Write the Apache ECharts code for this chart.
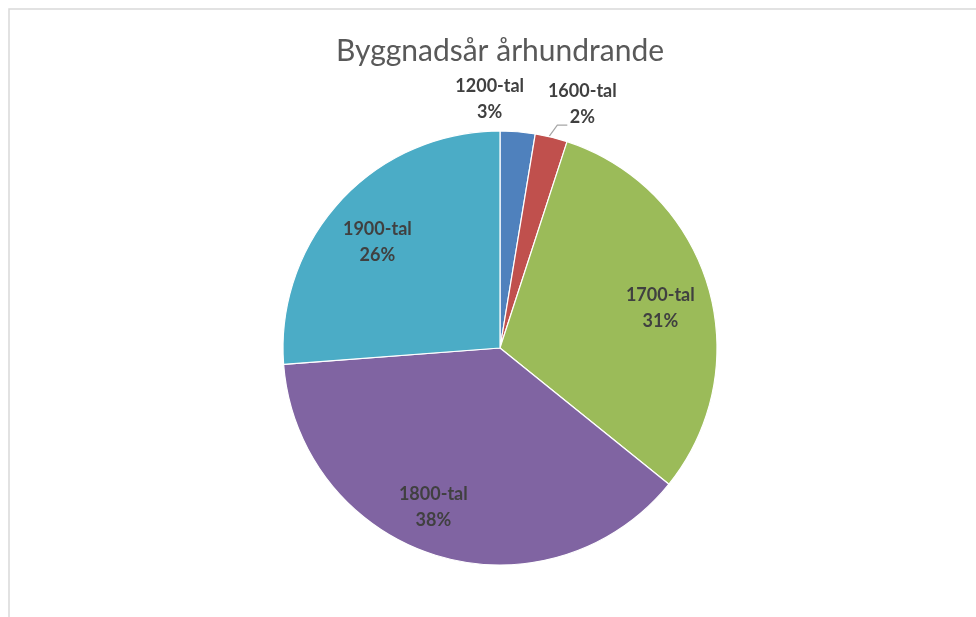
<!DOCTYPE html>
<html><head><meta charset="utf-8">
<script src="https://cdn.jsdelivr.net/npm/echarts@6/dist/echarts.min.js"></script>
<style>html,body{margin:0;padding:0;background:#fff}#c{width:976px;height:617px}</style>
</head><body><div id="c"></div>
<script>
const categories = ['1200-tal', '1600-tal', '1700-tal', '1800-tal', '1900-tal'];
const values = [2.6, 2.4, 30.8, 38.0, 26.2];
const percentLabels = ['3%', '2%', '31%', '38%', '26%'];
const colors = ['#4F81BD', '#C0504D', '#9BBB59', '#8064A2', '#4BACC6'];

const CX = 500, CY = 348, R = 217;
const total = values.reduce((a, b) => a + b, 0);
function midAngle(i) {
  let s = 0;
  for (let k = 0; k < i; k++) s += values[k];
  return (s + values[i] / 2) / total * 2 * Math.PI;
}
const chart = echarts.init(document.getElementById('c'));
const data = categories.map((name, i) => {
  const item = { name, value: values[i], itemStyle: { color: colors[i] } };
  if (i < 2) {
    item.label = { position: 'outside' };
    item.labelLine = { show: i === 1 };
  }
  return item;
});
chart.setOption({
  animation: false,
  graphic: [{ type: 'rect', shape: { x: 9, y: 9, width: 1000, height: 700 }, style: { fill: 'none', stroke: '#d9d9d9', lineWidth: 1.5 }, silent: true }],
  title: {
    text: 'Byggnadsår århundrande', left: 495, textAlign: 'center', top: 31,
    textStyle: { fontFamily: 'Lato', fontWeight: 'normal', fontSize: 30, color: '#595959' }
  },
  series: [{
    type: 'pie',
    center: [CX, CY], radius: [0, R],
    startAngle: 90, clockwise: true,
    data,
    itemStyle: { borderColor: '#fff', borderWidth: 1.2 },
    label: {
      show: true, position: 'inside',
      formatter: p => p.name + '\n' + percentLabels[p.dataIndex],
      fontFamily: 'Lato', fontWeight: 'bold', fontSize: 18, lineHeight: 26,
      color: '#404040', align: 'center'
    },
    labelLine: { show: true, length: 6, length2: 8, lineStyle: { color: '#a6a6a6', width: 1.2 } },
    labelLayout: function (p) {
      const r = p.labelRect;
      const lx = r.x + r.width / 2, ly = r.y + r.height / 2;
      if (p.dataIndex >= 2) {
        const extraX = p.dataIndex === 3 ? -17 : 0;
        const extraY = p.dataIndex === 3 ? -1 : 8;
        return { dx: (lx - CX) * 0.5 + extraX, dy: (ly - CY) * 0.5 + extraY };
      }
      const a = midAngle(p.dataIndex);
      const ex = CX + R * Math.sin(a), ey = CY - R * Math.cos(a);
      if (p.dataIndex === 0) {
        return { x: ex - 28, y: ey - 33, align: 'center', verticalAlign: 'middle' };
      }
      return {
        x: ex + 31, y: ey - 33, align: 'center', verticalAlign: 'middle',
        labelLinePoints: [[ex - 2, ey - 1], [ex + 6, ey - 12], [ex + 16, ey - 12]]
      };
    }
  }]
});
</script></body></html>
